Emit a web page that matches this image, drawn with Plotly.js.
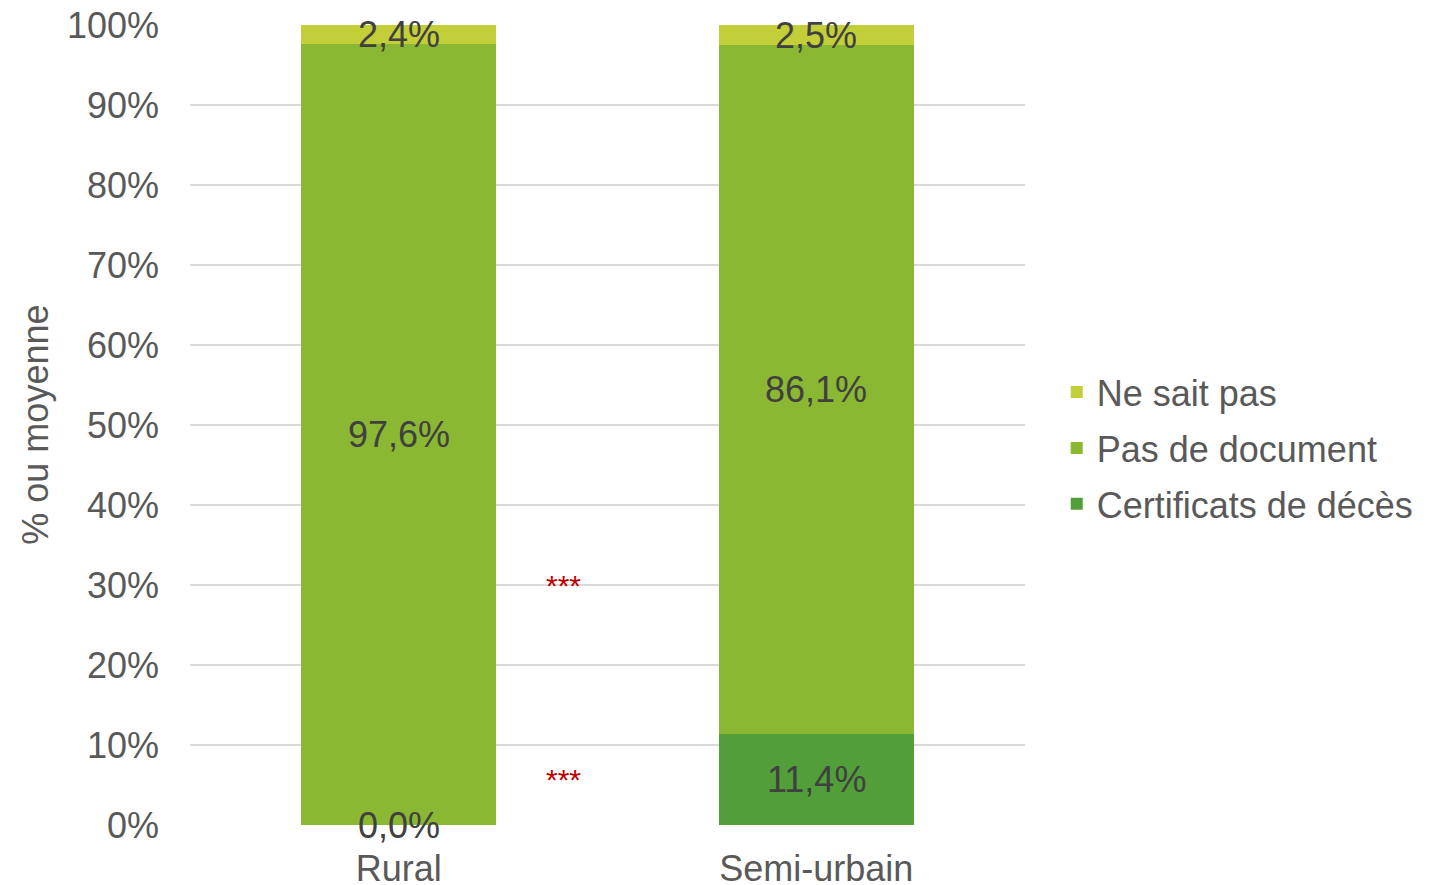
<!DOCTYPE html>
<html><head><meta charset="utf-8">
<script src="https://cdn.plot.ly/plotly-3.0.1.min.js"></script>
<style>body{margin:0;background:#fff}#chart{width:1434px;height:885px}</style>
</head><body><div id="chart"></div>
<script>
var categories = ['Rural', 'Semi-urbain'];
var certificats = [0.0, 11.4];
var pasDocument = [97.6, 86.1];
var neSaitPas = [2.4, 2.5];
var seriesNames = ['Certificats de décès', 'Pas de document', 'Ne sait pas'];
var seriesColors = ['#529E38', '#8BB833', '#C3CF38'];
var significance = [{y: 30, text: '***'}, {y: 5.7, text: '***'}];

var FONT = 'Liberation Sans, Arial, sans-serif';
var series = [certificats, pasDocument, neSaitPas];
var traces = series.map(function(vals, i){
  return {type:'bar', x:categories, y:vals, name:seriesNames[i], legendgroup:'g'+i,
    legendrank: 1000 - i,
    marker:{color:seriesColors[i]}, width:0.467, hoverinfo:'none'};
});

var annotations = [];
var base = categories.map(function(){return 0;});
series.forEach(function(vals){
  vals.forEach(function(v, j){
    annotations.push({x:categories[j], y:base[j] + v/2, xref:'x', yref:'y',
      text: v.toFixed(1).replace('.', ',') + '%', showarrow:false,
      font:{family:FONT, size:36, color:'#404040'}});
    base[j] += v;
  });
});
significance.forEach(function(s){
  annotations.push({x:0.395, y:s.y, xref:'x', yref:'y', text:s.text, showarrow:false,
    font:{family:FONT, size:30, color:'#C00000'}});
});
annotations.push({xref:'paper', yref:'paper', x:-0.186, y:0.5, xanchor:'center', yanchor:'middle',
  text:'% ou moyenne', textangle:-90, showarrow:false,
  font:{family:FONT, size:36, color:'#595959'}});

var layout = {
  width:1434, height:885,
  margin:{l:190, r:409, t:25, b:60, autoexpand:false},
  barmode:'stack',
  paper_bgcolor:'#fff', plot_bgcolor:'#fff',
  font:{family:FONT, size:36, color:'#595959'},
  xaxis:{type:'category', range:[-0.5,1.5], showgrid:false, zeroline:false, showline:false,
    ticks:'', ticklabelstandoff:19, tickfont:{size:36, color:'#595959'}},
  yaxis:{range:[0,100], dtick:10, ticksuffix:'%', showgrid:true, gridcolor:'#D9D9D9', gridwidth:1.5,
    zeroline:false, showline:false, ticks:'', ticklabelstandoff:30, tickfont:{size:36, color:'#595959'}},
  legend:{x:1.038, y:0.471, xanchor:'left', yanchor:'middle', traceorder:'grouped',
    font:{family:FONT, size:36, color:'#595959'}, itemwidth:30, tracegroupgap:6},
  showlegend:true,
  annotations:annotations
};
Plotly.newPlot('chart', traces, layout, {displayModeBar:false, staticPlot:true});
</script></body></html>
